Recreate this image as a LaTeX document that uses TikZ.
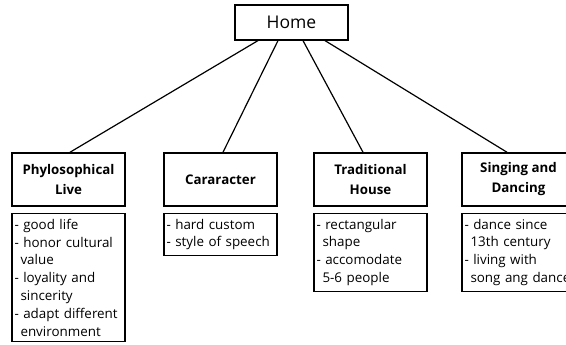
\documentclass[tikz,border=0pt]{standalone}
\usepackage{fontspec}
\setmainfont{Open Sans}
\usetikzlibrary{
	positioning
}
\tikzset{
	link/.style={line width=1.2pt},
	homebox/.style={draw, line width=1.2pt, minimum width=113pt, minimum height=35pt, font=\fontsize{17.5}{20}\selectfont},
	titlebox/.style={draw, line width=1.5pt, minimum width=113pt, minimum height=53pt, align=center, font=\bfseries\fontsize{13.3}{20}\selectfont},
	listbox/.style={draw, line width=1.5pt, text width=108pt, inner xsep=2.5pt, inner ysep=5.5pt, align=left, font=\fontsize{13.4}{17.8}\selectfont}
}
\newcommand{\cont}{\mbox{\hspace{6pt}}}

\begin{document}
\begin{tikzpicture}[x=1pt, y=-1pt, node distance=6pt]
	\useasboundingbox (0,0) rectangle (566,345);
	\begin{scope}
		\clip (0,0) rectangle (566,345);
		\node[homebox] (home) at (291.5,22.5) {Home};
		% titles
		\node[titlebox] (phil) at (68.5,179.5) {Phylosophical\\Live};
		\node[titlebox] (char) at (220.5,179.5) {Cararacter};
		\node[titlebox] (house) at (370.5,179.5) {Traditional\\House};
		\node[titlebox] (sing) at (518.5,179.5) {Singing and\\Dancing};
		% lists
		\node[listbox, below=of phil] (philx) {- good life\\- honor cultural\\\cont value\\- loyality and\\\cont sincerity\\- adapt different\\\cont environment};
		\node[listbox, below=of char] (charx) {- hard custom\\- style of speech};
		\node[listbox, below=of house] (housex) {- rectangular\\\cont shape\\- accomodate\\\cont 5-6 people};
		\node[listbox, below=of sing] (singx) {- dance since\\\cont 13th century\\- living with\\\cont song ang dance};
		% links
		\foreach \from/\to/\shift/\tshift in {-33.5/phil/-33.5/1.5, -13.5/char/-13.5/2.5, 11.5/house/11.5/-7.5, 33.5/sing/33.5/-11.5} {
			\draw[link] ([xshift=\shift pt]home.south) -- ([xshift=\tshift pt]\to.north);
		}
	\end{scope}
\end{tikzpicture}
\end{document}
